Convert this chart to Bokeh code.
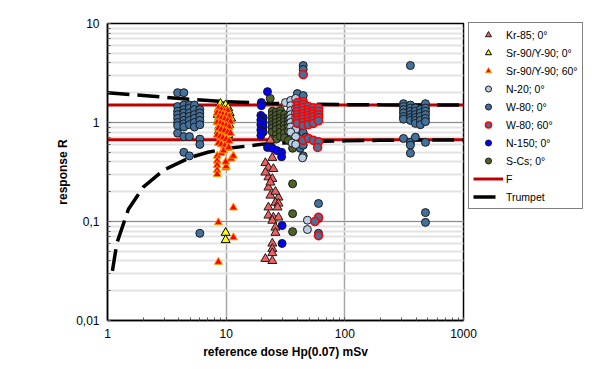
from bokeh.plotting import figure
from bokeh.models import (Legend, LegendItem, CustomJSTickFormatter, Range1d)
from bokeh.embed import file_html
from bokeh.resources import INLINE

# ---------------- data ----------------
kr85_x = [23.6, 24.5, 21.4, 22.7, 25.0, 22.7, 24.5, 21.4, 22.7, 23.6, 27.6, 26.0, 27.6,
          22.7, 27.1, 22.7, 25.0, 27.6, 24.5, 26.0, 26.0, 24.5, 24.5, 24.5, 21.4, 24.5, 23.6, 26.0]
kr85_y = [0.66, 0.44, 0.39, 0.35, 0.34, 0.28, 0.27, 0.313, 0.221, 0.183, 0.175, 0.155, 0.152,
          0.139, 0.139, 0.115, 0.110, 0.110, 0.102, 0.087, 0.077, 0.060, 0.053, 0.048, 0.042, 0.040, 0.248, 0.20]

sr0_x = [8.95, 9.4, 9.9, 10.4, 8.7, 9.2, 9.7, 10.2, 10.7, 8.5, 9.0, 9.5, 10.0, 10.5, 11.0,
         8.6, 9.1, 9.6, 10.1, 10.6, 8.8, 9.3, 9.8, 10.3, 8.7, 9.2, 9.7, 10.4, 9.0, 9.5, 9.9, 9.9]
sr0_y = [1.55, 1.45, 1.5, 1.4, 1.35, 1.3, 1.32, 1.28, 1.25, 1.2, 1.18, 1.22, 1.15, 1.12, 1.1,
         1.05, 1.02, 1.0, 0.98, 0.95, 0.92, 0.88, 0.9, 0.85, 0.82, 0.8, 0.78, 0.75, 0.72, 0.7, 0.077, 0.065]

sr60_x = [8.6, 9.1, 9.7, 10.3, 8.4, 8.9, 9.4, 10.0, 10.6, 8.6, 9.1, 9.7, 10.3, 10.9, 8.4,
          8.9, 9.4, 10.0, 10.6, 8.6, 9.1, 9.7, 10.3, 10.9, 8.4, 8.9, 9.4, 10.0, 10.6, 8.6,
          9.1, 9.7, 10.3, 8.4, 8.4, 8.4, 8.4, 8.4, 9.1, 9.9, 10.0, 11.0, 11.5, 11.5, 8.6,
          11.5, 8.6, 9.5, 10.5, 9.9]
sr60_y = [1.4, 1.35, 1.3, 1.32, 1.25, 1.22, 1.2, 1.18, 1.15, 1.12, 1.1, 1.08, 1.05, 1.02, 1.0,
          0.98, 0.95, 0.93, 0.9, 0.88, 0.85, 0.83, 0.8, 0.78, 0.75, 0.72, 0.7, 0.68, 0.65, 0.62,
          0.6, 0.58, 0.55, 0.46, 0.41, 0.37, 0.33, 0.30, 0.49, 0.35, 0.36, 0.43, 0.46, 0.138,
          0.098, 0.069, 0.039, 0.52, 0.56, 0.40]

n20_x = [31.6, 35.0, 35.0, 38.5, 35.0, 38.5, 35.0, 38.5, 35.0, 38.5, 35.0, 38.5, 35.0, 38.5,
         35.0, 38.5, 36.0, 38.5, 44.0, 48.4, 48.4]
n20_y = [1.59, 1.67, 1.48, 1.75, 1.32, 1.4, 1.2, 1.25, 1.1, 1.12, 1.0, 0.98, 0.9, 0.85,
         0.8, 0.72, 0.62, 0.6, 0.44, 0.103, 0.083]

w80_x = [3.9, 3.9, 3.9, 3.9, 3.9, 3.9, 3.9, 3.9,
         4.4, 4.4, 4.4, 4.4, 4.4, 4.4, 4.4, 4.4, 4.4, 4.4,
         4.9, 4.9, 4.9, 4.9, 4.9, 4.9, 4.9, 4.9,
         5.4, 5.4, 5.4, 5.4, 5.4, 5.4,
         6.0, 6.0, 6.0, 6.0, 6.0, 6.0, 6.0, 6.0,
         44.6, 44.6, 39.8, 44.6, 39.8, 44.6, 47.0, 42.0, 44.6, 44.6, 60.0, 60.0, 60.0,
         357, 312, 312, 312, 312, 312, 312, 357, 357, 357, 357, 357, 357, 393, 393, 393, 393,
         393, 393, 433, 433, 433, 433, 433, 478, 478, 478, 478, 478, 478,
         312, 357, 393, 478, 357, 357, 478, 478]
w80_y = [2.0, 1.45, 1.3, 1.2, 1.1, 1.0, 0.93, 0.78,
         2.0, 1.5, 1.35, 1.25, 1.15, 1.05, 0.97, 0.9, 0.72, 0.5,
         1.5, 1.4, 1.25, 1.15, 1.05, 0.95, 0.72, 0.46,
         1.5, 1.35, 1.2, 1.1, 1.0, 0.9,
         1.35, 1.25, 1.15, 1.05, 0.95, 0.68, 0.6, 0.076,
         3.76, 3.43, 1.96, 1.87, 0.83, 0.79, 0.71, 0.55, 0.59, 0.46, 0.152, 0.107, 0.076,
         3.76, 1.55, 1.45, 1.35, 1.25, 1.15, 1.08, 1.5, 1.4, 1.3, 1.2, 1.12, 1.05, 1.4, 1.3,
         1.2, 1.12, 1.05, 0.98, 1.35, 1.25, 1.15, 1.05, 0.95, 1.55, 1.4, 1.3, 1.2, 1.1, 1.02,
         0.69, 0.63, 0.71, 0.63, 0.59, 0.49, 0.123, 0.098]

w80_60_x = [39.8, 39.8, 39.8, 39.8, 39.8, 39.8, 39.8, 39.8,
            44.6, 44.6, 44.6, 44.6, 44.6, 44.6, 44.6, 44.6, 44.6,
            49.3, 49.3, 49.3, 49.3, 49.3, 49.3, 49.3,
            54.3, 54.3, 54.3, 54.3, 54.3, 54.3,
            60.0, 60.0, 60.0, 60.0, 60.0,
            44.6, 49.3, 54.3, 60.0, 59.0, 44.6, 60.0, 56.0, 60.0]
w80_60_y = [1.59, 1.48, 1.38, 1.29, 1.2, 1.12, 1.05, 0.98,
            1.62, 1.52, 1.42, 1.32, 1.23, 1.15, 1.08, 1.0, 0.93,
            1.45, 1.35, 1.26, 1.18, 1.1, 1.02, 0.95,
            1.4, 1.3, 1.22, 1.14, 1.06, 0.98,
            1.4, 1.3, 1.2, 1.12, 1.04,
            0.66, 0.69, 0.66, 0.64, 0.56, 3.05, 0.11, 0.10, 0.072]

n150_x = [22.3, 19.8, 19.8, 19.6, 20.5, 19.6, 20.5, 19.6, 20.5, 19.6, 20.5, 19.6,
          22.3, 24.5, 26.8, 29.3, 29.3, 29.6, 29.6]
n150_y = [2.05, 1.59, 1.48, 1.18, 1.12, 1.06, 1.0, 0.95, 0.9, 0.84, 0.8, 0.74,
          0.56, 0.55, 0.52, 0.50, 0.45, 0.091, 0.06]

scs_x = [23.5, 24.5, 24.5, 24.5, 24.5, 24.5, 24.5, 24.5,
         26.5, 26.5, 26.5, 26.5, 26.5, 26.5, 26.5, 26.5,
         28.7, 28.7, 28.7, 28.7, 28.7, 28.7, 28.7, 28.7,
         31.0, 31.0, 31.0, 31.0, 31.0, 31.0, 31.0,
         33.5, 33.5, 33.5, 33.5, 33.5, 33.5,
         36.3, 36.3, 36.3, 36.3, 36.3, 36.3, 36.3, 36.3]
scs_y = [1.75, 1.3, 1.2, 1.1, 1.02, 0.95, 0.88, 0.8,
         1.28, 1.18, 1.08, 1.0, 0.92, 0.85, 0.75, 0.68,
         1.32, 1.22, 1.12, 1.04, 0.96, 0.88, 0.8, 0.72,
         1.2, 1.1, 1.02, 0.94, 0.86, 0.78, 0.7,
         1.15, 1.05, 0.97, 0.9, 0.82, 0.66,
         1.1, 0.95, 0.8, 0.62, 0.55, 0.24, 0.12, 0.079]

f_x = [1, 1000]
f_upper = [1.5, 1.5]
f_lower = [0.67, 0.67]

trumpet_up_x = [1, 2, 3, 5, 10, 20, 50, 100, 200, 500, 1000]
trumpet_up_y = [2.0, 1.875, 1.8, 1.714, 1.625, 1.568, 1.529, 1.515, 1.507, 1.503, 1.5015]
trumpet_lo_x = [1.1, 1.2, 1.5, 2, 3, 5, 7, 10, 20, 50, 100, 200, 500, 1000]
trumpet_lo_y = [0.0317, 0.0606, 0.133, 0.222, 0.333, 0.444, 0.5, 0.545, 0.603, 0.641,
                0.653, 0.660, 0.664, 0.666]

# ---------------- figure ----------------
p = figure(x_axis_type="log", y_axis_type="log",
           x_range=Range1d(1, 1000), y_range=Range1d(0.01, 10),
           frame_width=356, frame_height=297,
           min_border_left=107, min_border_top=23, min_border_bottom=41, min_border_right=4,
           output_backend="svg", toolbar_location=None,
           background_fill_color="white", border_fill_color="white")
p.outline_line_color = "black"
p.outline_line_width = 1.5

# grids
p.xgrid.grid_line_color = "#A6A6A6"
p.xgrid.grid_line_width = 1.5
p.ygrid.grid_line_color = "#8C8C8C"
p.ygrid.grid_line_width = 1.2
p.ygrid.minor_grid_line_color = "#E3E3E3"
p.ygrid.minor_grid_line_width = 2
p.xgrid.minor_grid_line_color = None

# axes
for ax in (p.xaxis, p.yaxis):
    ax.axis_line_color = "black"
    ax.axis_line_width = 1.5
    ax.major_tick_in = 0
    ax.major_tick_out = 0
    ax.minor_tick_in = 3
    ax.minor_tick_out = 0
    ax.minor_tick_line_color = "#555555"
    ax.major_label_text_font = "Liberation Sans"
    ax.major_label_text_font_size = "12px"
    ax.major_label_text_color = "black"
    ax.axis_label_text_font = "Liberation Sans"
    ax.axis_label_text_font_size = "12px"
    ax.axis_label_text_font_style = "bold"
    ax.axis_label_text_color = "black"
p.xaxis.axis_label = "reference dose Hp(0.07) mSv"
p.yaxis.axis_label = "response R"
p.xaxis.major_label_standoff = 8
p.xaxis.axis_label_standoff = 4
p.yaxis.major_label_standoff = 8
p.yaxis.axis_label_standoff = 3
p.xaxis.formatter = CustomJSTickFormatter(code="return String(tick).replace('.', ',');")
p.yaxis.formatter = CustomJSTickFormatter(code="return String(tick).replace('.', ',');")

# lines
f1 = p.line(f_x, f_upper, line_color="#C00000", line_width=3)
p.line(f_x, f_lower, line_color="#C00000", line_width=3)
t1 = p.line(trumpet_up_x, trumpet_up_y, line_color="black", line_width=3.5, line_dash="22 8")
p.line(trumpet_lo_x, trumpet_lo_y, line_color="black", line_width=3.5, line_dash="22 8")

# scatter series
common = dict(line_color="#1a1a1a", line_width=1)
r_w80 = p.scatter(w80_x, w80_y, marker="circle", size=8, fill_color="#41719C", **common)
r_scs = p.scatter(scs_x, scs_y, marker="circle", size=8, fill_color="#4F6228", **common)
r_n20 = p.scatter(n20_x, n20_y, marker="circle", size=8, fill_color="#B9CDE5", **common)
r_n150 = p.scatter(n150_x, n150_y, marker="circle", size=8, fill_color="#0000FF", **common)
r_w60 = p.scatter(w80_60_x, w80_60_y, marker="circle", size=8, fill_color="#41719C",
                  line_color="#FF0000", line_width=1.6)
r_kr = p.scatter(kr85_x, kr85_y, marker="triangle", size=9, fill_color="#F06060", **common)
r_sr0 = p.scatter(sr0_x, sr0_y, marker="triangle", size=9, fill_color="#FFFF00",
                  line_color="black", line_width=1)
r_sr60 = p.scatter(sr60_x, sr60_y, marker="triangle", size=8, fill_color="#FF0000",
                   line_color="#FF9900", line_width=1)

legend = Legend(items=[
    LegendItem(label="Kr-85; 0°", renderers=[r_kr]),
    LegendItem(label="Sr-90/Y-90; 0°", renderers=[r_sr0]),
    LegendItem(label="Sr-90/Y-90; 60°", renderers=[r_sr60]),
    LegendItem(label="N-20; 0°", renderers=[r_n20]),
    LegendItem(label="W-80; 0°", renderers=[r_w80]),
    LegendItem(label="W-80; 60°", renderers=[r_w60]),
    LegendItem(label="N-150; 0°", renderers=[r_n150]),
    LegendItem(label="S-Cs; 0°", renderers=[r_scs]),
    LegendItem(label="F", renderers=[f1]),
    LegendItem(label="Trumpet", renderers=[t1]),
], location=(5, 111))
legend.border_line_color = "black"
legend.border_line_width = 1
legend.label_text_font = "Liberation Sans"
legend.label_text_font_size = "10.5px"
legend.label_text_color = "black"
legend.glyph_width = 30
legend.glyph_height = 15
legend.label_height = 15
legend.spacing = 3
legend.padding = 4
legend.margin = 0
legend.label_standoff = 3
legend.background_fill_alpha = 1
p.add_layout(legend, "right")

open("out.html", "w").write(file_html(p, INLINE))
